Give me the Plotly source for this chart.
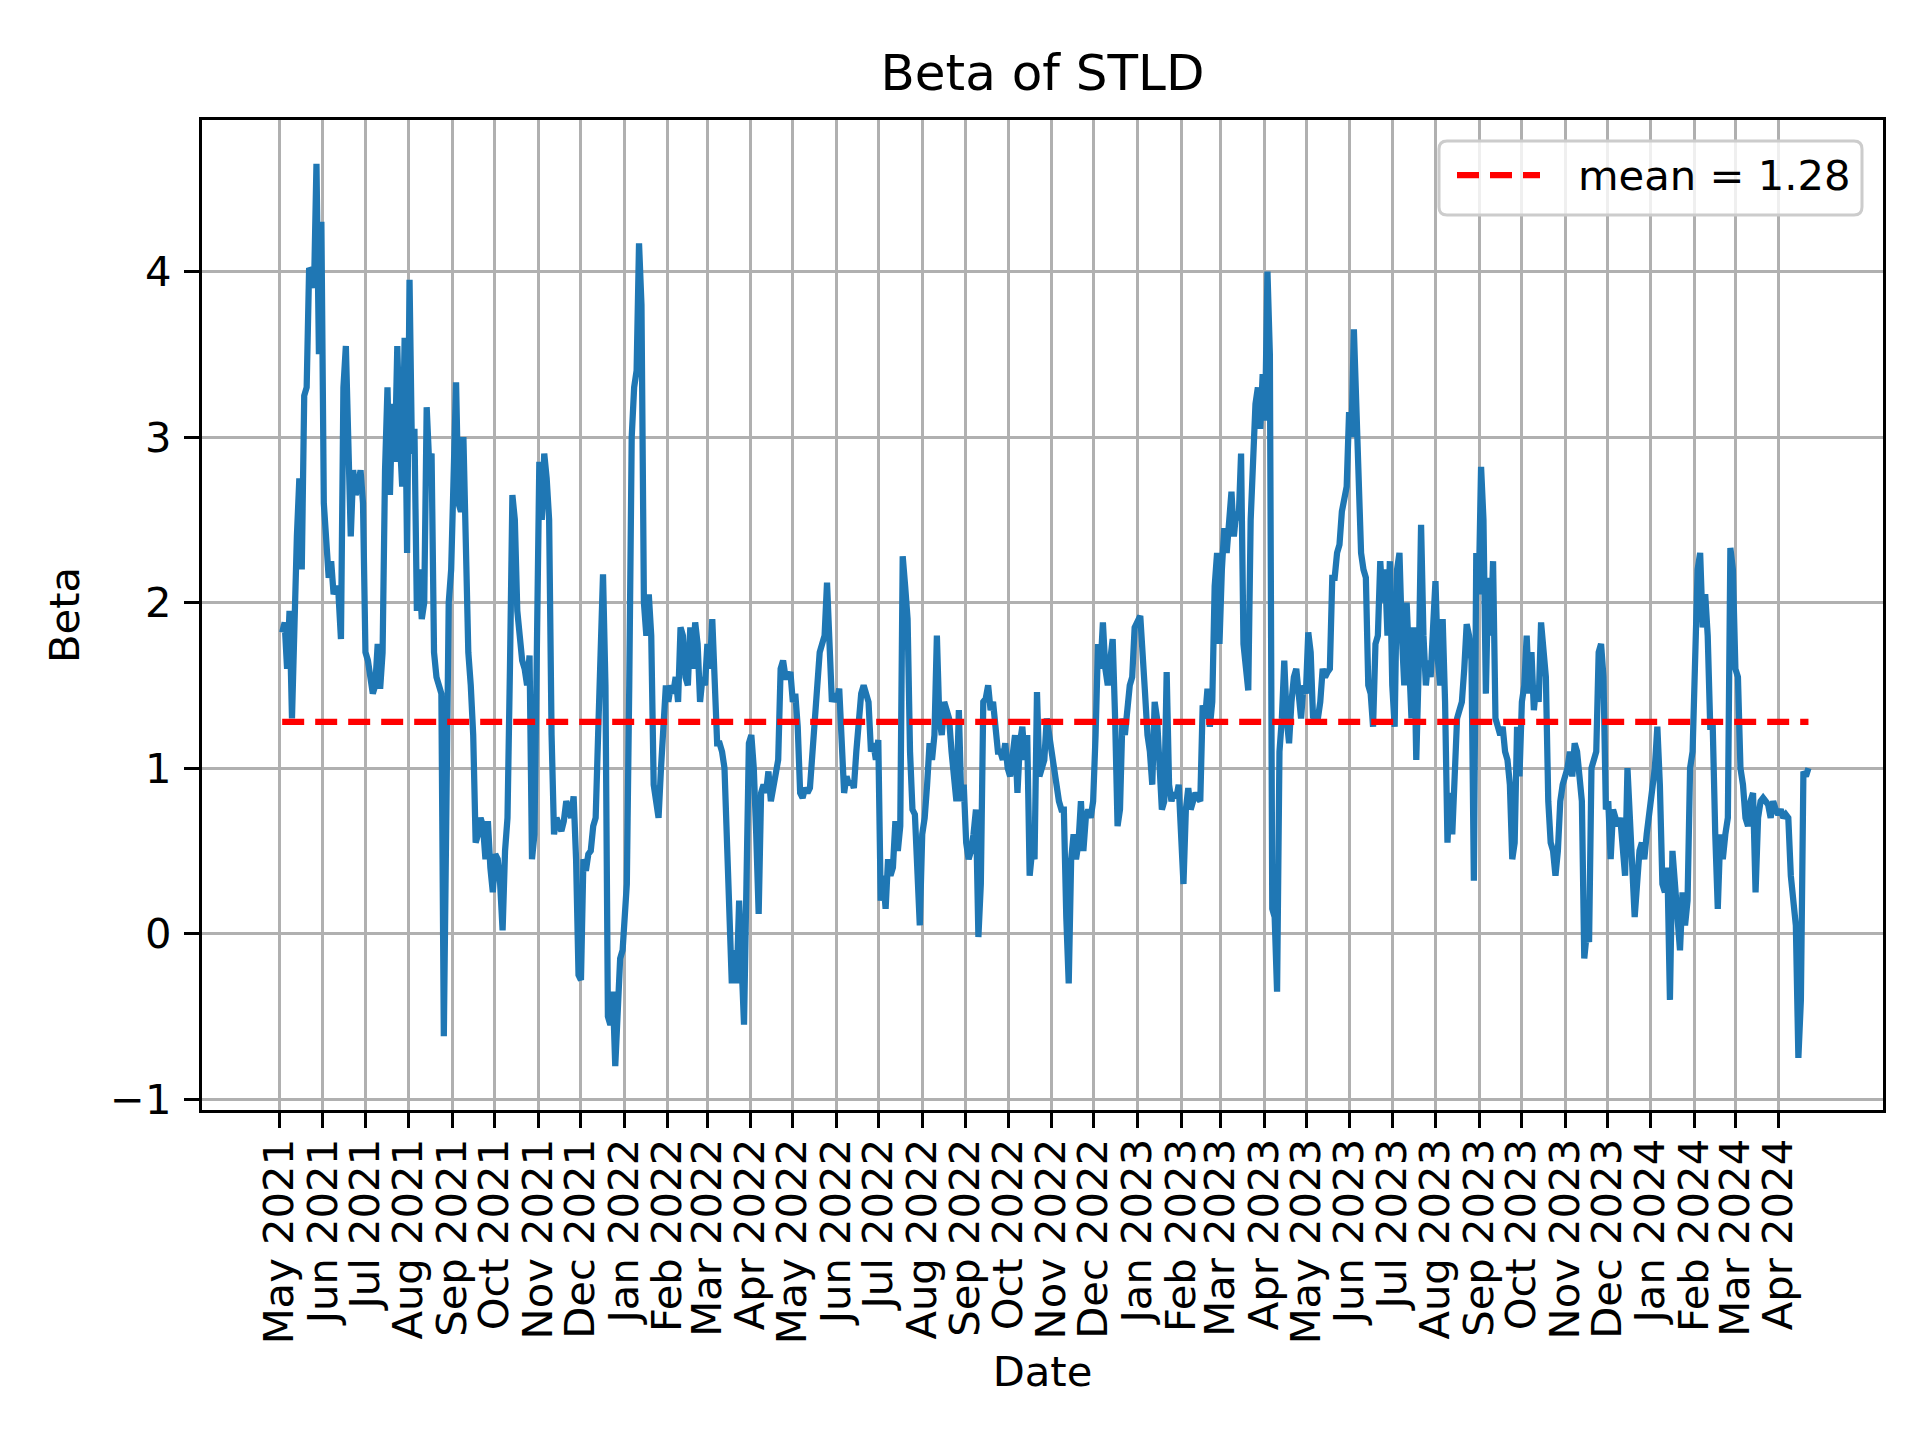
import numpy as np
import pandas as pd
import plotly.graph_objects as go

# rolling beta of STLD (one value every ~2 trading days)
beta_2021 = [1.82, 1.88, 1.6, 1.95, 1.3, 1.95, 2.4, 2.75, 2.2, 3.25, 3.3, 4.02, 4.0, 3.9, 4.65, 3.5, 4.3,
             2.6, 2.3, 2.15, 2.25, 2.05, 2.1, 2.05, 1.78, 3.3, 3.55, 2.8, 2.4, 2.8, 2.65, 2.7, 2.8, 2.6,
             1.7, 1.65, 1.55, 1.45, 1.5, 1.75, 1.48, 1.7, 2.8, 3.3, 2.65, 3.2, 2.85, 3.55, 3.0, 2.7, 3.6,
             2.3, 3.95, 2.9, 3.05, 1.95, 2.2, 1.9, 2.0, 3.18, 2.85, 2.9, 1.7, 1.55, 1.5, 1.45, -0.62, 0.7,
             2.0, 2.2, 3.0, 3.33, 2.6, 2.55, 3.0, 2.4, 1.7, 1.5, 1.2, 0.55, 0.6, 0.7, 0.65, 0.45, 0.68,
             0.4, 0.25, 0.48, 0.45, 0.3, 0.02, 0.5, 0.7, 1.6, 2.65, 2.5, 1.95, 1.8, 1.65, 1.6, 1.5, 1.68,
             0.45, 0.6, 1.8, 2.85, 2.5, 2.9, 2.75, 2.5, 1.2, 0.6, 0.7, 0.65, 0.62, 0.68, 0.8, 0.75, 0.7,
             0.83, 0.45, -0.25, -0.28, 0.45, 0.38, 0.48, 0.5, 0.65, 0.7, 1.2, 1.8, 2.17, 1.5, -0.5, -0.55,
             -0.35, -0.8, -0.4, -0.15, -0.1]
beta_2022 = [0.3, 1.5, 3.0, 3.3, 3.4, 4.17, 3.8, 2.0, 1.8, 2.05, 1.8, 0.9, 0.8, 0.7, 1.0, 1.3, 1.5, 1.4,
             1.5, 1.45, 1.55, 1.4, 1.85, 1.8, 1.55, 1.5, 1.85, 1.6, 1.88, 1.75, 1.4, 1.55, 1.5, 1.75, 1.6,
             1.9, 1.35, 1.15, 1.15, 1.1, 1.0, 0.5, 0.0, -0.3, -0.1, -0.3, 0.2, -0.3, -0.55, 0.3, 1.15, 1.2,
             1.0, 0.6, 0.12, 0.85, 0.9, 0.85, 0.98, 0.8, 0.9, 0.95, 1.05, 1.6, 1.65, 1.55, 1.55, 1.58, 1.4,
             1.45, 1.25, 0.85, 0.82, 0.88, 0.85, 0.88, 1.1, 1.35, 1.45, 1.7, 1.75, 1.8, 2.12, 1.8, 1.4,
             1.45, 1.4, 1.48, 1.05, 0.85, 0.95, 0.9, 0.92, 0.88, 1.1, 1.3, 1.45, 1.5, 1.45, 1.4, 1.1, 1.15,
             1.05, 1.17, 0.2, 0.35, 0.15, 0.45, 0.35, 0.4, 0.68, 0.5, 0.65, 2.28, 2.1, 1.9, 1.1, 0.75, 0.72,
             0.35, 0.05, 0.6, 0.7, 0.9, 1.15, 1.05, 1.2, 1.8, 1.3, 1.2, 1.4, 1.35, 1.3, 1.1, 0.95, 0.8, 1.35,
             0.8, 0.9, 0.55, 0.45, 0.5, 0.6, 0.75, -0.02, 0.3, 1.4, 1.42, 1.5, 1.35, 1.4, 1.2, 1.1, 1.1,
             1.05, 1.15, 1.0, 0.95, 1.1, 1.2, 0.85, 1.15, 1.25, 1.05, 1.2, 0.35, 0.5, 0.45, 1.46, 0.95, 1.0,
             1.05, 1.3, 1.2, 1.05, 1.0, 0.85, 0.8, 0.75, 0.75, 0.1, -0.3, 0.45, 0.6, 0.45, 0.55, 0.8, 0.5,
             0.7, 0.75, 0.7, 0.8, 1.2, 1.75, 1.6, 1.88, 1.6, 1.5, 1.65, 1.78, 1.3, 0.65, 0.75, 1.3, 1.2,
             1.38, 1.5, 1.55, 1.85]
beta_2023 = [1.92, 1.6, 1.45, 1.2, 1.1, 0.9, 1.4, 1.3, 1.05, 0.75, 0.8, 1.58, 0.9, 0.8, 0.85, 0.82, 0.9,
             0.5, 0.3, 0.75, 0.88, 0.75, 0.8, 0.85, 0.82, 0.8, 1.38, 1.3, 1.48, 1.25, 1.4, 2.1, 2.3, 1.75,
             2.2, 2.45, 2.3, 2.45, 2.67, 2.4, 2.55, 2.5, 2.9, 1.75, 1.6, 1.47, 2.5, 3.0, 3.2, 3.3, 3.05,
             3.38, 3.1, 4.0, 3.5, 0.15, 0.1, -0.35, 1.1, 1.3, 1.65, 1.3, 1.15, 1.4, 1.55, 1.6, 1.4, 1.3,
             1.5, 1.45, 1.82, 1.7, 1.3, 1.32, 1.3, 1.4, 1.6, 1.55, 1.58, 1.6, 2.15, 2.15, 2.3, 2.35, 2.55,
             2.65, 2.7, 3.15, 3.0, 3.65, 3.2, 2.9, 2.3, 2.2, 2.15, 1.5, 1.45, 1.25, 1.75, 1.8, 2.25, 2.0,
             2.2, 1.8, 2.25, 1.5, 1.25, 2.2, 2.3, 1.8, 1.5, 2.0, 1.5, 1.3, 1.85, 1.05, 1.6, 2.47, 1.8, 1.5,
             1.65, 1.55, 1.85, 2.13, 1.65, 1.5, 1.9, 1.4, 0.55, 0.85, 0.6, 0.9, 1.3, 1.35, 1.4, 1.6, 1.87,
             1.8, 1.65, 0.32, 2.3, 2.05, 2.82, 2.5, 1.45, 2.15, 1.8, 2.25, 1.3, 1.25, 1.2, 1.25, 1.1, 1.05,
             0.9, 0.45, 0.55, 1.25, 0.95, 1.4, 1.5, 1.8, 1.45, 1.7, 1.35, 1.5, 1.4, 1.88, 1.75, 1.55, 0.8,
             0.55, 0.5, 0.35, 0.5, 0.8, 0.9, 0.95, 1.0, 1.1, 0.95, 1.15, 1.1, 0.95, 0.8, -0.15, 0.0, -0.05,
             1.0, 1.05, 1.1, 1.7, 1.75, 1.55, 0.75, 0.8, 0.45, 0.75, 0.7, 0.65, 0.7, 0.5, 0.35, 1.0, 0.7,
             0.55, 0.1, 0.3, 0.5, 0.55, 0.45, 0.6]
beta_2024 = [0.85, 1.0, 1.25, 0.9, 0.3, 0.25, 0.4, -0.4, 0.5, 0.3, 0.15, -0.1, 0.25, 0.05, 0.2, 1.0, 1.1,
             1.8, 2.2, 2.3, 1.85, 2.05, 1.8, 1.25, 1.25, 0.6, 0.15, 0.6, 0.45, 0.6, 0.7, 2.33, 2.2, 1.6,
             1.55, 1.0, 0.9, 0.7, 0.65, 0.8, 0.85, 0.25, 0.7, 0.8, 0.82, 0.8, 0.78, 0.7, 0.8, 0.75, 0.72,
             0.75, 0.7, 0.72, 0.7, 0.35, 0.2, 0.05, -0.75, -0.4, 0.98, 0.95, 1.0]

# first and last trading day covered by each list
spans = [("2021-05-03", "2021-12-31"), ("2022-01-03", "2022-12-30"),
         ("2023-01-03", "2023-12-29"), ("2024-01-02", "2024-04-22")]
mean_beta = 1.28

chunks = [beta_2021, beta_2022, beta_2023, beta_2024]
dates = []
for (start, end), vals in zip(spans, chunks):
    dates.extend(pd.date_range(start, end, periods=len(vals)))
beta = np.concatenate(chunks)

month_ticks = pd.date_range("2021-05-01", "2024-04-01", freq="MS")
month_text = [d.strftime("%b %Y") for d in month_ticks]

LW = 6.25          # 1.5 pt at 300 dpi
DASH = "22px,11px"

fig = go.Figure()
fig.add_trace(go.Scatter(x=dates, y=beta, mode="lines", showlegend=False,
                         line=dict(color="#1f77b4", width=LW)))
fig.add_trace(go.Scatter(x=[dates[0], dates[-1]], y=[mean_beta, mean_beta], mode="lines",
                         name="mean = {:.2f}".format(mean_beta), showlegend=False,
                         line=dict(color="red", width=LW, dash=DASH)))

axis_style = dict(showline=True, mirror=True, linecolor="black", linewidth=3.3,
                  ticks="outside", ticklen=15, tickwidth=3.3, tickcolor="black",
                  showgrid=True, gridcolor="#b0b0b0", gridwidth=3.3, zeroline=False,
                  tickfont=dict(size=41.7, color="black"))

fig.update_xaxes(**axis_style, range=["2021-03-07", "2024-06-14"],
                 tickvals=month_ticks, ticktext=month_text, tickangle=-90, ticklabelstandoff=-6,
                 title=dict(text="Date", font=dict(size=41.7, color="black"), standoff=14))
fig.update_yaxes(**axis_style, range=[-1.065, 4.915],
                 tickvals=[-1, 0, 1, 2, 3, 4], ticktext=["\u22121", "0", "1", "2", "3", "4"],
                 ticklabelstandoff=4,
                 title=dict(text="Beta", font=dict(size=41.7, color="black"), standoff=18))

# matplotlib-style legend box in the upper right corner (pixel offsets from the axes corner)
box = ("M -436,-21 L -29,-21 Q -21,-21 -21,-29 L -21,-87 Q -21,-95 -29,-95 "
       "L -436,-95 Q -444,-95 -444,-87 L -444,-29 Q -444,-21 -436,-21 Z")
fig.add_shape(type="path", path=box, xref="paper", yref="paper", xsizemode="pixel",
              ysizemode="pixel", xanchor=1, yanchor=1, layer="above",
              fillcolor="rgba(255,255,255,0.8)", line=dict(color="#cccccc", width=3))
fig.add_shape(type="line", xref="paper", yref="paper", xsizemode="pixel", ysizemode="pixel",
              xanchor=1, yanchor=1, x0=-426, x1=-343, y0=-55, y1=-55, layer="above",
              line=dict(color="red", width=LW, dash=DASH))
fig.add_annotation(text="mean = {:.2f}".format(mean_beta), xref="paper", yref="paper",
                   x=1, y=1, xanchor="left", yanchor="middle", xshift=-307, yshift=-55,
                   showarrow=False, font=dict(size=41.7, color="black"))

fig.update_layout(
    width=1920, height=1440,
    template="plotly_white",
    paper_bgcolor="white", plot_bgcolor="white",
    font=dict(family="DejaVu Sans", color="black"),
    showlegend=False,
    margin=dict(l=194, r=45, t=112, b=338, autoexpand=False),
    title=dict(text="Beta of STLD", x=0.5, xref="paper", y=1 - 64 / 1440, yanchor="middle",
               font=dict(size=50, color="black")),
)

fig.write_html("out.html")
